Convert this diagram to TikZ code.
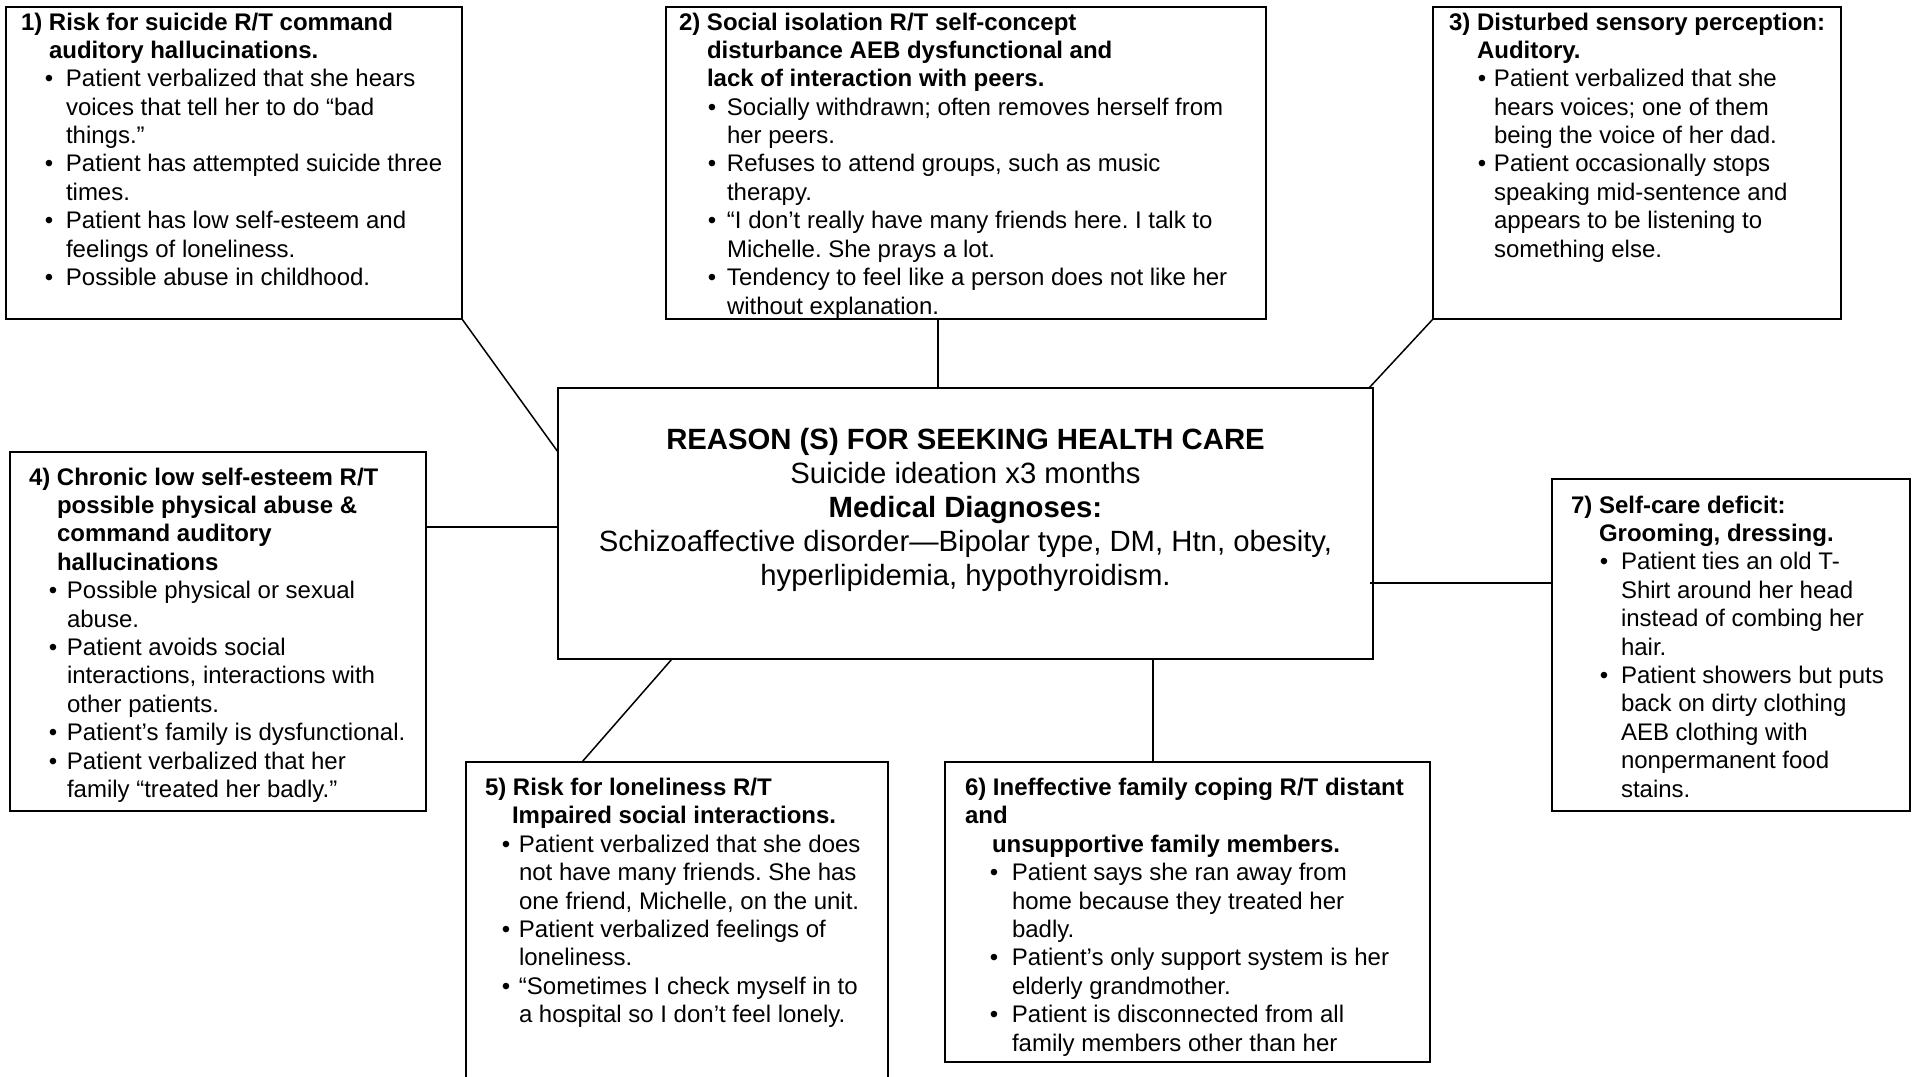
\documentclass[tikz,border=0pt]{standalone}
\usepackage{fontspec}
\setmainfont{Liberation Sans}
\frenchspacing
\newcommand\HL[2]{\hspace*{#1pt}\textbf{#2}\par}
\newcommand\TL[2]{\hspace*{#1pt}#2\par}
\newcommand\BL[3]{\leavevmode\rlap{\hspace*{#1pt}\makebox[0pt]{•}}\hspace*{#2pt}#3\par}
\newcommand\boxtxt[1]{\begin{minipage}[t]{700pt}\frenchspacing\setlength\parindent{0pt}\setlength\parskip{0pt}\fontsize{24}{28.4}\selectfont #1\end{minipage}}
\tikzset{
  dxbox/.style={draw=black, line width=2pt, inner sep=0pt, outer sep=0pt, fill=white},
  dxtext/.style={inner sep=0pt, outer sep=0pt, anchor=base west},
  link/.style={draw=black, line width=1.5pt}
}
\begin{document}
\begin{tikzpicture}[x=1pt,y=-1pt]
\useasboundingbox (0,0) rectangle (1916,1076);
\clip (0,0) rectangle (1916,1076);
\fill[white] (0,0) rectangle (1916,1076);
% boxes
\node[dxbox, anchor=north west, minimum width=456pt, minimum height=312pt] (b1) at (6,7) {};
\node[dxbox, anchor=north west, minimum width=600pt, minimum height=312pt] (b2) at (666,7) {};
\node[dxbox, anchor=north west, minimum width=408pt, minimum height=312pt] (b3) at (1433,7) {};
\node[dxbox, anchor=north west, minimum width=815pt, minimum height=271pt] (cen) at (558,388) {};
\node[dxbox, anchor=north west, minimum width=416pt, minimum height=359pt] (b4) at (10,452) {};
\node[dxbox, anchor=north west, minimum width=358pt, minimum height=332pt] (b7) at (1552,479) {};
\node[dxbox, anchor=north west, minimum width=422pt, minimum height=340pt] (b5) at (466,762) {};
\node[dxbox, anchor=north west, minimum width=485pt, minimum height=300pt] (b6) at (945,762) {};
% connectors
\draw[link] (b1.south east) -- ([yshift=-64pt]cen.north west);
\coordinate (c2a) at ([xshift=-28pt]b2.south);
\draw[link] (c2a) -- (c2a |- cen.north);
\draw[link] (b3.south west) -- ([xshift=-4pt]cen.north east);
\coordinate (c4a) at ([yshift=-75pt]b4.north east);
\draw[link] (c4a) -- (c4a -| cen.west);
\coordinate (c7a) at ([yshift=-104pt]b7.north west);
\draw[link] (c7a) -- ([xshift=-3pt]c7a -| cen.east);
\draw[link] ([xshift=114pt]cen.south west) -- ([xshift=116pt]b5.north west);
\coordinate (c6a) at ([xshift=-34.5pt]b6.north);
\draw[link] (c6a) -- (c6a |- cen.south);
% texts
\node[dxtext] (t1) at (6,30) {\boxtxt{%
\HL{15}{1) Risk for suicide R/T command}
\HL{43}{auditory hallucinations.}
\BL{43}{60}{Patient verbalized that she hears}
\TL{60}{voices that tell her to do “bad}
\TL{60}{things.”}
\BL{43}{60}{Patient has attempted suicide three}
\TL{60}{times.}
\BL{43}{60}{Patient has low self-esteem and}
\TL{60}{feelings of loneliness.}
\BL{43}{60}{Possible abuse in childhood.}}};
\node[dxtext] (t2) at (666,30) {\boxtxt{%
\HL{13}{2) Social isolation R/T self-concept}
\HL{41}{disturbance AEB dysfunctional and}
\HL{41}{lack of interaction with peers.}
\BL{46}{61}{Socially withdrawn; often removes herself from}
\TL{61}{her peers.}
\BL{46}{61}{Refuses to attend groups, such as music}
\TL{61}{therapy.}
\BL{46}{61}{“I don’t really have many friends here. I talk to}
\TL{61}{Michelle. She prays a lot.}
\BL{46}{61}{Tendency to feel like a person does not like her}
\TL{61}{without explanation.}}};
\node[dxtext] (t3) at (1433,30) {\boxtxt{%
\HL{16}{3) Disturbed sensory perception:}
\HL{44}{Auditory.}
\BL{49}{61}{Patient verbalized that she}
\TL{61}{hears voices; one of them}
\TL{61}{being the voice of her dad.}
\BL{49}{61}{Patient occasionally stops}
\TL{61}{speaking mid-sentence and}
\TL{61}{appears to be listening to}
\TL{61}{something else.}}};
\node[dxtext] (t4) at (10,485) {\boxtxt{%
\HL{19}{4) Chronic low self-esteem R/T}
\HL{47}{possible physical abuse \&}
\HL{47}{command auditory}
\HL{47}{hallucinations}
\BL{43}{57}{Possible physical or sexual}
\TL{57}{abuse.}
\BL{43}{57}{Patient avoids social}
\TL{57}{interactions, interactions with}
\TL{57}{other patients.}
\BL{43}{57}{Patient’s family is dysfunctional.}
\BL{43}{57}{Patient verbalized that her}
\TL{57}{family “treated her badly.”}}};
\node[dxtext] (t5) at (466,795.5) {\boxtxt{%
\HL{19}{5) Risk for loneliness R/T}
\HL{46}{Impaired social interactions.}
\BL{40}{53}{Patient verbalized that she does}
\TL{53}{not have many friends. She has}
\TL{53}{one friend, Michelle, on the unit.}
\BL{40}{53}{Patient verbalized feelings of}
\TL{53}{loneliness.}
\BL{40}{53}{“Sometimes I check myself in to}
\TL{53}{a hospital so I don’t feel lonely.}}};
\node[dxtext] (t6) at (945,795.5) {\boxtxt{%
\HL{20}{6) Ineffective family coping R/T distant}
\HL{20}{and}
\HL{47}{unsupportive family members.}
\BL{49}{67}{Patient says she ran away from}
\TL{67}{home because they treated her}
\TL{67}{badly.}
\BL{49}{67}{Patient’s only support system is her}
\TL{67}{elderly grandmother.}
\BL{49}{67}{Patient is disconnected from all}
\TL{67}{family members other than her}}};
\node[dxtext] (t7) at (1552,513) {\boxtxt{%
\HL{19}{7) Self-care deficit:}
\HL{47}{Grooming, dressing.}
\BL{52}{69}{Patient ties an old T-}
\TL{69}{Shirt around her head}
\TL{69}{instead of combing her}
\TL{69}{hair.}
\BL{52}{69}{Patient showers but puts}
\TL{69}{back on dirty clothing}
\TL{69}{AEB clothing with}
\TL{69}{nonpermanent food}
\TL{69}{stains.}}};
\node[inner sep=0pt, outer sep=0pt, anchor=base] (tc) at (965.5,449) {\begin{minipage}[t]{850pt}\centering\frenchspacing\fontsize{29.3}{34}\selectfont
\textbf{REASON (S) FOR SEEKING HEALTH CARE}\par
Suicide ideation x3 months\par
\textbf{Medical Diagnoses:}\par
Schizoaffective disorder—Bipolar type, DM, Htn, obesity,\par
hyperlipidemia, hypothyroidism.\par\end{minipage}};
\end{tikzpicture}
\end{document}
